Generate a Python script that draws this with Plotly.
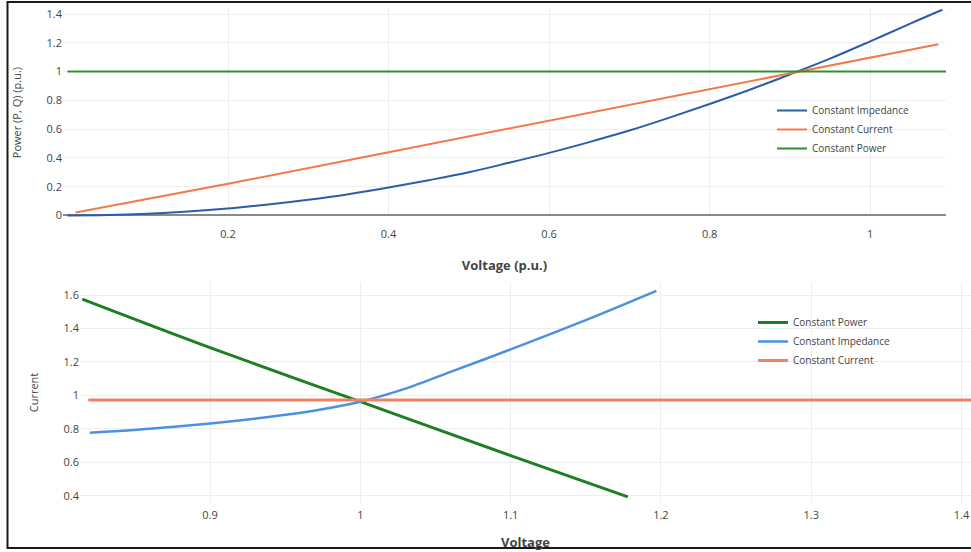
import plotly.graph_objects as go

W, H = 971, 552

# ---- top chart data: Power vs Voltage ----
v_top = [0.0, 0.05, 0.1, 0.15, 0.2, 0.25, 0.3, 0.35, 0.4, 0.45, 0.5, 0.55, 0.6,
         0.65, 0.7, 0.75, 0.8, 0.85, 0.9, 0.95, 1.0, 1.05, 1.09]
p_impedance = [0.0, 0.003, 0.012, 0.027, 0.048, 0.076, 0.109, 0.148, 0.194, 0.245, 0.30, 0.366, 0.435,
               0.51, 0.59, 0.68, 0.775, 0.874, 0.98, 1.09, 1.21, 1.334, 1.43]
v_current = [0.01, 0.2, 0.4, 0.6, 0.8, 1.0, 1.085]
p_current = [0.02, 0.22, 0.44, 0.66, 0.88, 1.10, 1.19]
v_power = [0.0, 0.5, 1.1]
p_power = [1.0, 1.0, 1.0]

# ---- bottom chart data: Current vs Voltage ----
v_cp = [0.815, 0.9, 1.0, 1.1, 1.178]
i_cp = [1.575, 1.285, 0.962, 0.64, 0.393]
v_ci = [0.82, 0.86, 0.9, 0.94, 0.97, 1.0, 1.03, 1.06, 1.1, 1.15, 1.197]
i_ci = [0.776, 0.80, 0.832, 0.872, 0.91, 0.962, 1.04, 1.14, 1.275, 1.45, 1.625]
v_cc = [0.819, 1.0, 1.2, 1.42]
i_cc = [0.972, 0.972, 0.972, 0.972]

FONT = "Open Sans, Noto Sans, sans-serif"

fig = go.Figure()
fig.add_trace(go.Scatter(x=v_top, y=p_impedance, mode="lines", name="Constant Impedance",
                         line=dict(color="#2c5da8", width=2, shape="spline"), xaxis="x", yaxis="y", legend="legend"))
fig.add_trace(go.Scatter(x=v_current, y=p_current, mode="lines", name="Constant Current",
                         line=dict(color="#f27a4a", width=2), xaxis="x", yaxis="y", legend="legend"))
fig.add_trace(go.Scatter(x=v_power, y=p_power, mode="lines", name="Constant Power",
                         line=dict(color="#2f8f2f", width=2), xaxis="x", yaxis="y", legend="legend"))

fig.add_trace(go.Scatter(x=v_cp, y=i_cp, mode="lines", name="Constant Power",
                         line=dict(color="#1f7d24", width=3, shape="spline"), xaxis="x2", yaxis="y2", legend="legend2"))
fig.add_trace(go.Scatter(x=v_ci, y=i_ci, mode="lines", name="Constant Impedance",
                         line=dict(color="#4a92e0", width=2.5, shape="spline", smoothing=0.8),
                         xaxis="x2", yaxis="y2", legend="legend2"))
fig.add_trace(go.Scatter(x=v_cc, y=i_cc, mode="lines", name="Constant Current",
                         line=dict(color="#f2825e", width=3), xaxis="x2", yaxis="y2", legend="legend2"))

tickfont = dict(family=FONT, size=11, color="#444")
ytitlefont = dict(family=FONT, size=11, color="#444")
xtitlefont = dict(family=FONT, size=13, color="#444", weight="bold")
common = dict(showgrid=True, gridcolor="#eeeeee", gridwidth=1, showline=False,
              ticks="", tickfont=tickfont, automargin=False)

fig.update_layout(
    width=W, height=H,
    margin=dict(l=0, r=0, t=0, b=0),
    paper_bgcolor="white", plot_bgcolor="white",
    template="none",
    font=dict(family=FONT, color="#444"),
    xaxis=dict(domain=[63 / W, 946 / W], range=[-0.0056, 1.0945], anchor="y",
               tickvals=[0.2, 0.4, 0.6, 0.8, 1.0], ticktext=["0.2", "0.4", "0.6", "0.8", "1"],
               zeroline=False, ticklabelstandoff=9,
               title=dict(text="Voltage (p.u.)", font=xtitlefont, standoff=20), **common),
    yaxis=dict(domain=[(H - 216.9) / H, (H - 8.3) / H], range=[-0.01, 1.44], anchor="x",
               tickvals=[0, 0.2, 0.4, 0.6, 0.8, 1.0, 1.2, 1.4],
               ticktext=["0", "0.2", "0.4", "0.6", "0.8", "1", "1.2", "1.4"],
               zeroline=True, zerolinecolor="#8a8a8a", zerolinewidth=2,
               title=dict(text="Power (P, Q) (p.u.)", font=ytitlefont, standoff=22), **common),
    xaxis2=dict(domain=[80 / W, 1.0], range=[0.8135, 1.4063], anchor="y2",
                tickvals=[0.9, 1.0, 1.1, 1.2, 1.3, 1.4], ticktext=["0.9", "1", "1.1", "1.2", "1.3", "1.4"],
                zeroline=False, ticklabelstandoff=4,
                title=dict(text="Voltage", font=xtitlefont, standoff=16), **common),
    yaxis2=dict(domain=[(H - 503) / H, (H - 282) / H], range=[0.3563, 1.6778], anchor="x2",
                tickvals=[0.4, 0.6, 0.8, 1.0, 1.2, 1.4, 1.6],
                ticktext=["0.4", "0.6", "0.8", "1", "1.2", "1.4", "1.6"],
                zeroline=False,
                title=dict(text="Current", font=ytitlefont, standoff=22), **common),
    legend=dict(x=772 / W, y=(H - 96) / H, xanchor="left", yanchor="top",
                bgcolor="rgba(255,255,255,0)", font=dict(family=FONT, size=10, color="#444")),
    legend2=dict(x=753 / W, y=(H - 308) / H, xanchor="left", yanchor="top",
                 bgcolor="rgba(255,255,255,0)", font=dict(family=FONT, size=10, color="#444")),
    showlegend=True,
)

# outer frame of the picture
fig.add_shape(type="rect", xref="paper", yref="paper",
              x0=7.5 / W, x1=1.02, y0=(H - 548) / H, y1=(H - 2) / H,
              line=dict(color="#1a1a1a", width=2), fillcolor="rgba(0,0,0,0)", layer="above")

fig.write_html("out.html")
